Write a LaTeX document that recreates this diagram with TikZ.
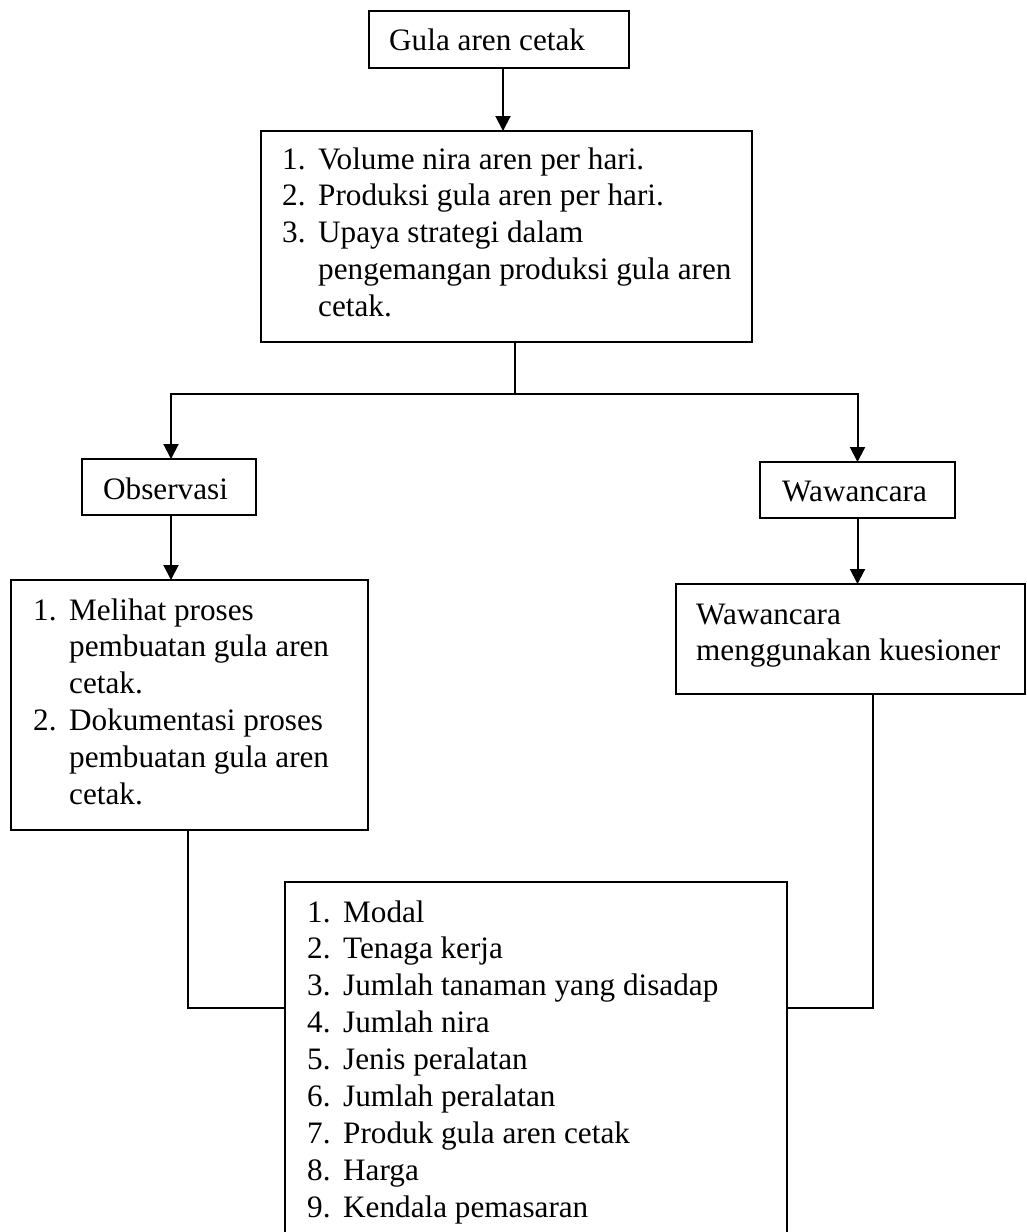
\documentclass[tikz,border=0pt]{standalone}
\usepackage{fontspec}
\setmainfont{Liberation Serif}
\usetikzlibrary{arrows.meta}
\newcommand\nb[1]{\makebox[36pt][l]{#1}}
\tikzset{
  box/.style={draw, line width=1.6pt, inner sep=0pt, outer sep=0pt, anchor=north west},
  txt/.style={anchor=base west, inner sep=0pt, font=\fontsize{31.2}{36.9}\selectfont},
  ln/.style={line width=1.6pt},
  arr/.style={line width=2pt, -{Triangle[width=15pt,length=15pt]}}
}
\begin{document}
\begin{tikzpicture}[x=1pt,y=-1pt]
\clip (0,0) rectangle (1027,1232);
\fill[white] (0,0) rectangle (1027,1232);
% boxes
\node[box, minimum width=260pt, minimum height=57pt] (b1) at (369,11) {};
\node[box, minimum width=491pt, minimum height=211pt] (b2) at (261,131) {};
\node[box, minimum width=174pt, minimum height=56pt] (obs) at (82,459) {};
\node[box, minimum width=195pt, minimum height=56pt] (waw) at (760,462) {};
\node[box, minimum width=357pt, minimum height=250pt] (lb) at (11,580) {};
\node[box, minimum width=349pt, minimum height=110pt] (rb) at (676,584) {};
\node[box, minimum width=502pt, minimum height=370pt] (bb) at (285,882) {};
% texts
\node[txt] (t1) at (389,50) {Gula aren cetak};
\node[txt] (t2) at (282,169) {\begin{tabular}[t]{@{}l@{}}
\nb{1.}Volume nira aren per hari.\\
\nb{2.}Produksi gula aren per hari.\\
\nb{3.}Upaya strategi dalam\\
\nb{}pengemangan produksi gula aren\\
\nb{}cetak.
\end{tabular}};
\node[txt] (tobs) at (103,499) {Observasi};
\node[txt] (twaw) at (782,501) {Wawancara};
\node[txt] (tlb) at (33,620) {\begin{tabular}[t]{@{}l@{}}
\nb{1.}Melihat proses\\
\nb{}pembuatan gula aren\\
\nb{}cetak.\\
\nb{2.}Dokumentasi proses\\
\nb{}pembuatan gula aren\\
\nb{}cetak.
\end{tabular}};
\node[txt] (trb) at (696,624) {\begin{tabular}[t]{@{}l@{}}
Wawancara\\
menggunakan kuesioner
\end{tabular}};
\node[txt] (tbb) at (307,922) {\begin{tabular}[t]{@{}l@{}}
\nb{1.}Modal\\
\nb{2.}Tenaga kerja\\
\nb{3.}Jumlah tanaman yang disadap\\
\nb{4.}Jumlah nira\\
\nb{5.}Jenis peralatan\\
\nb{6.}Jumlah peralatan\\
\nb{7.}Produk gula aren cetak\\
\nb{8.}Harga\\
\nb{9.}Kendala pemasaran
\end{tabular}};
% connectors
\draw[arr] ([xshift=4pt]b1.south) -- ([xshift=4pt]b1.south |- b2.north);
\coordinate (jn) at (515,394);
\draw[ln] (jn |- b2.south) -- (jn);
\draw[arr] (jn) -| ([xshift=2pt]obs.north);
\draw[arr] (jn) -| (waw.north);
\draw[arr] ([xshift=2pt]obs.south) -- ([xshift=2pt]obs.south |- lb.north);
\draw[arr] (waw.south) -- (waw.south |- rb.north);
\draw[ln] ([xshift=-1.5pt]lb.south) |- ([yshift=-126pt]bb.north west);
\draw[ln] ([xshift=22.5pt]rb.south) |- ([yshift=-126pt]bb.north east);
\end{tikzpicture}
\end{document}
